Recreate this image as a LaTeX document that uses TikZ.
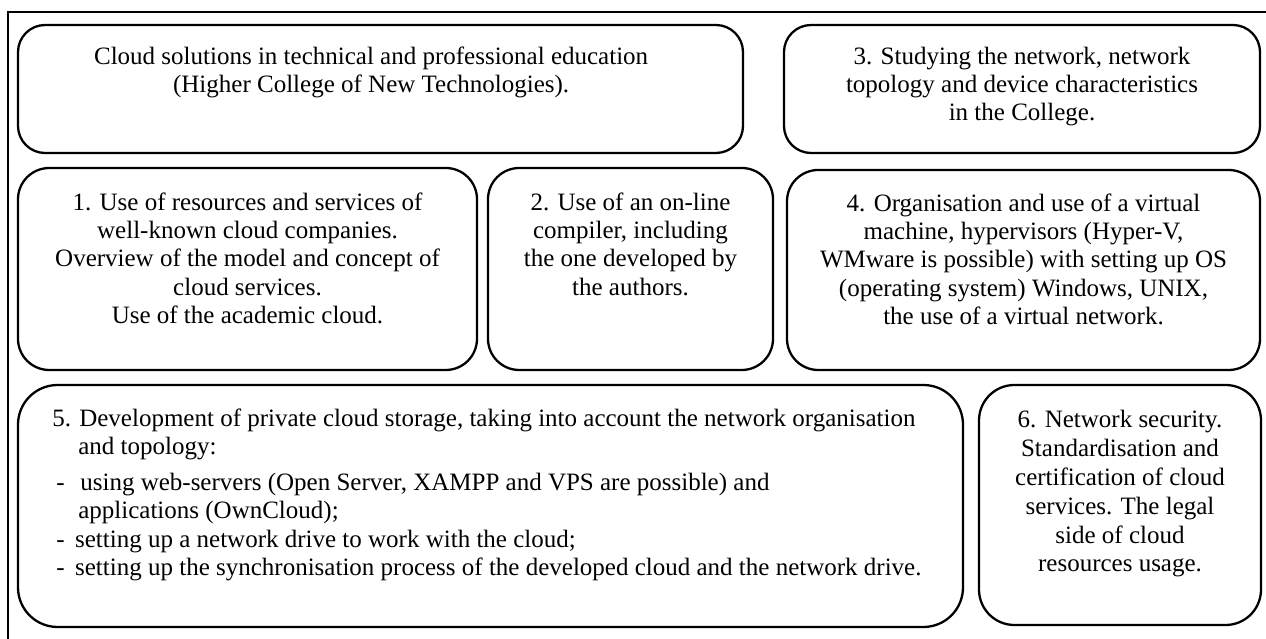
\documentclass[tikz,border=0pt]{standalone}
\usepackage{fontspec}
\setmainfont{Liberation Serif}
\usetikzlibrary{positioning, fit}

\begin{document}
\begin{tikzpicture}[
    x=1pt, y=-1pt,
    box/.style={draw, rectangle, rounded corners=13pt, line width=1.1pt, inner sep=0pt},
    txt/.style={align=center, inner sep=0pt, font=\fontsize{12}{13.6}\selectfont},
    frame/.style={line width=0.9pt}
  ]
  \useasboundingbox (0,0) rectangle (607.68,306.72);
  \clip (0,0) rectangle (607.68,306.72);
  \draw[frame] (3.84,5.76) rectangle (620,320);

  \node[box, fit={(8.64,12) (356.64,73.44)}] (title) {};
  \node[box, fit={(376.32,12) (604.8,73.44)}] (study) {};
  \node[box, rounded corners=15pt, fit={(8.64,80.64) (228.96,177.6)}] (use1) {};
  \node[box, rounded corners=15pt, fit={(234.24,80.64) (371.04,177.6)}] (use2) {};
  \node[box, rounded corners=15pt, fit={(377.76,81.6) (604.8,177.6)}] (virt) {};
  \node[box, rounded corners=19pt, fit={(8.64,184.8) (462.24,300.96)}] (priv) {};
  \node[box, rounded corners=17pt, fit={(469.92,184.8) (605.28,300)}] (secur) {};

  \node[txt, below=33pt of title.north, anchor=base, xshift=-4.5pt] (title-t)
    {Cloud solutions in technical and professional education\\ (Higher College of New Technologies).};
  \node[txt, below=46.6pt of study.north, anchor=base] (study-t)
    {3. Studying the network, network\\ topology and device characteristics\\ in the College.};
  \node[txt, below=75.2pt of use1.north, anchor=base] (use1-t)
    {1. Use of resources and services of\\ well-known cloud companies.\\ Overview of the model and concept of\\ cloud services.\\ Use of the academic cloud.};
  \node[txt, below=61.6pt of use2.north, anchor=base] (use2-t)
    {2. Use of an on-line\\ compiler, including\\ the one developed by\\ the authors.};
  \node[txt, below=74.7pt of virt.north, anchor=base] (virt-t)
    {4. Organisation and use of a virtual\\ machine, hypervisors (Hyper-V,\\ WMware is possible) with setting up OS\\ (operating system) Windows, UNIX,\\ the use of a virtual network.};
  \node[txt, align=left, below right=92pt and 16.8pt of priv.north west, anchor=base west] (priv-t)
    {5. Development of private cloud storage, taking into account the network organisation\\
     \hspace*{12.5pt}and topology:\\[3.5pt]
     \hspace*{2pt}-\hspace*{7.5pt}using web-servers (Open Server, XAMPP and VPS are possible) and\\
     \hspace*{12.5pt}applications (OwnCloud);\\
     \hspace*{2pt}-\hspace*{5pt}setting up a network drive to work with the cloud;\\
     \hspace*{2pt}-\hspace*{5pt}setting up the synchronisation process of the developed cloud and the network drive.};
  \node[txt, font=\fontsize{12}{13.9}\selectfont, below=90.3pt of secur.north, anchor=base] (secur-t)
    {6. Network security.\\ Standardisation and\\ certification of cloud\\ services. The legal\\ side of cloud\\ resources usage.};
\end{tikzpicture}
\end{document}
